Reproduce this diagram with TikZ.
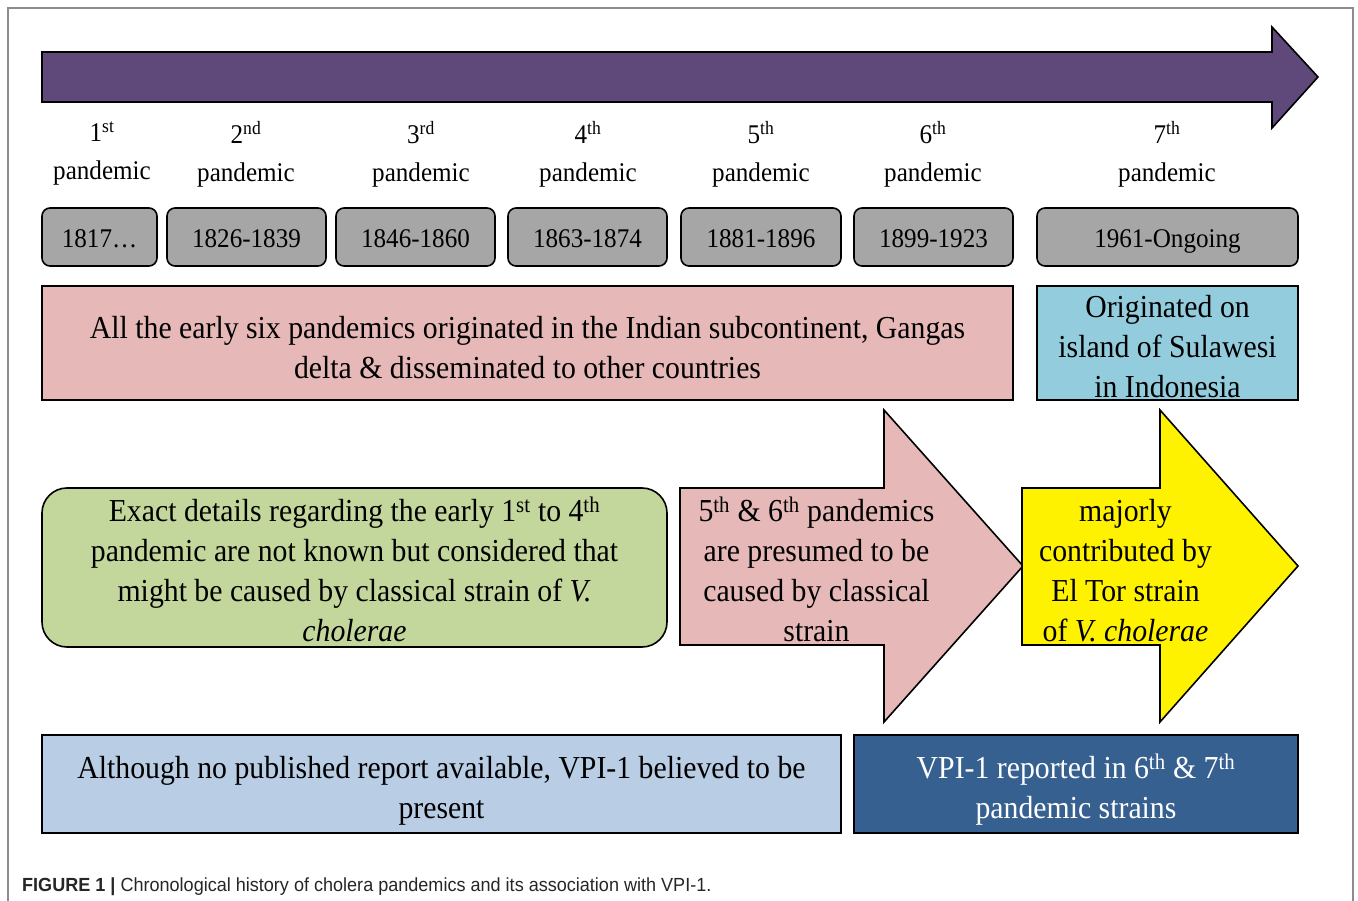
\documentclass[tikz,border=0pt]{standalone}
\usepackage{fontspec}
\setmainfont[FakeStretch=0.93]{Liberation Serif}
\newfontfamily\capfont[FakeStretch=0.95]{Liberation Sans}
\definecolor{purp}{HTML}{5F497A}
\definecolor{grayfill}{HTML}{A6A6A6}
\definecolor{pinkfill}{HTML}{E6B9B8}
\definecolor{cyanfill}{HTML}{93CDDD}
\definecolor{greenfill}{HTML}{C3D69B}
\definecolor{lbluefill}{HTML}{B9CDE5}
\definecolor{dbluefill}{HTML}{36608F}
\definecolor{framegray}{HTML}{8C8C8C}
\newcommand{\sups}[1]{\textsuperscript{#1}}
\tikzset{
  box/.style={draw=black, line width=1.6pt, inner sep=0pt},
  datebox/.style={draw=black, line width=1.6pt, fill=grayfill, rounded corners=8pt, inner sep=0pt, minimum height=58pt, text height=24pt, text depth=2pt, font=\fontsize{27}{32}\selectfont},
  lbl/.style={inner sep=0pt, align=center, font=\fontsize{27}{38}\selectfont},
  arrowshape/.style={draw=black, line width=1.6pt, line join=miter},
  txt/.style={inner sep=0pt, align=center, font=\fontsize{32}{40}\selectfont}
}
\begin{document}
\begin{tikzpicture}[x=1pt,y=-1pt]
\useasboundingbox (0,0) rectangle (1358,901);
\draw[framegray, line width=1.5pt] (8,901) -- (8,8) -- (1353,8) -- (1353,901);
% timeline arrow
\draw[arrowshape, fill=purp] (42,52) -- (1272,52) -- (1272,27) -- (1318,77) -- (1272,128) -- (1272,102) -- (42,102) -- cycle;
% labels
\node[lbl] (l1) at (102,154) {1\sups{st}\\pandemic};
\node[lbl] (l2) at (246,154) {2\sups{nd}\\pandemic};
\node[lbl] (l3) at (421,154) {3\sups{rd}\\pandemic};
\node[lbl] (l4) at (588,154) {4\sups{th}\\pandemic};
\node[lbl] (l5) at (761,154) {5\sups{th}\\pandemic};
\node[lbl] (l6) at (933,154) {6\sups{th}\\pandemic};
\node[lbl] (l7) at (1167,154) {7\sups{th}\\pandemic};
% date boxes
\node[datebox, minimum width=115pt] (g1) at (99.5,237) {1817\ldots};
\node[datebox, minimum width=159pt] (g2) at (246.5,237) {1826-1839};
\node[datebox, minimum width=159pt] (g3) at (415.5,237) {1846-1860};
\node[datebox, minimum width=159pt] (g4) at (587.5,237) {1863-1874};
\node[datebox, minimum width=160pt] (g5) at (761,237) {1881-1896};
\node[datebox, minimum width=159pt] (g6) at (933.5,237) {1899-1923};
\node[datebox, minimum width=261pt] (g7) at (1167.5,237) {1961-Ongoing};
% origin boxes
\node[box, fill=pinkfill, minimum width=971pt, minimum height=114pt] (orig) at (527.5,343) {};
\node[txt, yshift=-5pt] (origt) at (orig.center)
  {All the early six pandemics originated in the Indian subcontinent, Gangas\\delta \& disseminated to other countries};
\node[box, fill=cyanfill, minimum width=261pt, minimum height=114pt] (sul) at (1167.5,343) {};
\node[txt, yshift=-4pt] (sult) at (sul.center) {Originated on\\island of Sulawesi\\in Indonesia};
% strain row
\node[box, fill=greenfill, rounded corners=25pt, minimum width=625pt, minimum height=159pt] (early) at (354.5,567.5) {};
\node[txt, yshift=-2pt] (earlyt) at (early.center)
  {Exact details regarding the early 1\sups{st} to 4\sups{th}\\pandemic are not known but considered that\\might be caused by classical strain of \textit{V.}\\\textit{cholerae}};
\draw[arrowshape, fill=pinkfill] (680,488) -- (884,488) -- (884,410) -- (1023,566) -- (884,722) -- (884,645) -- (680,645) -- cycle;
\node[txt] (classic) at (816.5,569) {5\sups{th} \& 6\sups{th} pandemics\\are presumed to be\\caused by classical\\strain};
\draw[arrowshape, fill=yellow] (1022,488) -- (1160,488) -- (1160,410) -- (1298,566) -- (1160,722) -- (1160,645) -- (1022,645) -- cycle;
\node[txt] (eltor) at (1125.5,571) {majorly\\contributed by\\El Tor strain\\of \textit{V. cholerae}};
% VPI row
\node[box, fill=lbluefill, minimum width=799pt, minimum height=98pt] (vpia) at (441.5,784) {};
\node[txt, yshift=-7pt] (vpiat) at (vpia.center)
  {Although no published report available, VPI-1 believed to be\\present};
\node[box, fill=dbluefill, minimum width=444pt, minimum height=98pt] (vpib) at (1076,784) {};
\node[txt, text=white, yshift=-6pt] (vpibt) at (vpib.center)
  {VPI-1 reported in 6\sups{th} \& 7\sups{th}\\pandemic strains};
% caption
\node[anchor=base west, inner sep=0pt, font=\capfont\fontsize{19}{21}\selectfont, text=black!85] (cap) at (22,891)
  {\textbf{FIGURE 1 |} Chronological history of cholera pandemics and its association with VPI-1.};
\end{tikzpicture}
\end{document}
